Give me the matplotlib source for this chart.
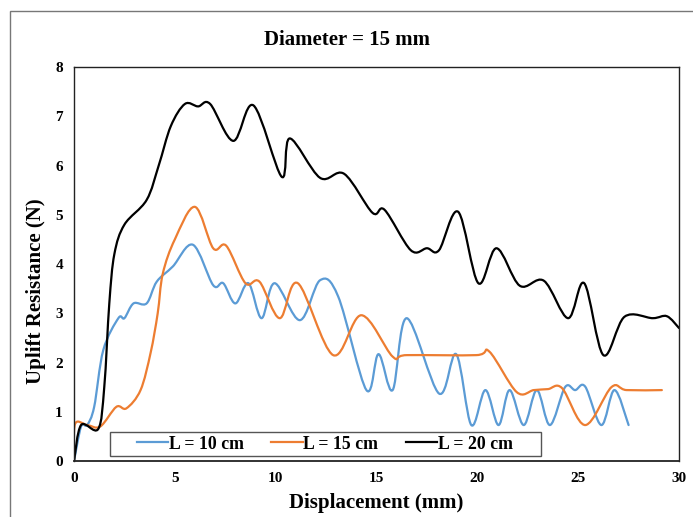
import numpy as np
import matplotlib
matplotlib.use("Agg")
import matplotlib.pyplot as plt
from matplotlib.path import Path
from matplotlib.patches import PathPatch, Rectangle
from matplotlib.lines import Line2D

# Datos (desplazamiento en mm, resistencia en N)
x_10 = [0, 0.35, 0.65, 1.0, 1.45, 2.2, 2.5, 2.95, 3.6, 4.1, 4.9, 5.9, 6.9, 7.4, 8.0,
        8.65, 9.3, 9.95, 11.2, 12.2, 13.1, 14.5, 15.1, 15.8, 16.5, 18.1, 18.95, 19.7,
        20.4, 21.05, 21.6, 22.3, 22.95, 23.6, 24.35, 24.85, 25.35, 26.15, 26.8, 27.5]
y_10 = [0, 0.7, 0.73, 1.1, 2.25, 2.9, 2.9, 3.2, 3.2, 3.64, 3.95, 4.39, 3.57, 3.61, 3.2,
        3.61, 2.9, 3.61, 2.86, 3.67, 3.34, 1.44, 2.17, 1.44, 2.9, 1.37, 2.17, 0.73,
        1.44, 0.73, 1.44, 0.73, 1.44, 0.73, 1.5, 1.44, 1.51, 0.73, 1.44, 0.73]

x_15 = [0, 0.05, 0.65, 1.3, 2.1, 2.6, 3.3, 3.8, 4.15, 4.4, 5.0, 6.0, 6.9, 7.55, 8.5,
        9.2, 10.2, 11.1, 12.85, 14.25, 15.8, 16.5, 19.95, 20.6, 21.95, 22.8, 23.5,
        24.2, 25.35, 26.65, 27.4, 29.15]
y_15 = [0, 0.75, 0.73, 0.7, 1.1, 1.07, 1.44, 2.2, 3.0, 3.8, 4.5, 5.16, 4.32, 4.37, 3.61,
        3.64, 2.9, 3.61, 2.15, 2.96, 2.12, 2.15, 2.15, 2.22, 1.4, 1.44, 1.46,
        1.48, 0.73, 1.5, 1.44, 1.44]

x_20 = [0, 0.35, 1.2, 1.5, 1.75, 2.0, 2.5, 3.6, 4.2, 4.8, 5.5, 6.15, 6.75, 7.9, 8.9,
        10.3, 10.7, 12.2, 13.4, 14.8, 15.4, 16.7, 17.5, 18.1, 19.05, 20.05, 20.95,
        22.1, 23.3, 24.5, 25.3, 26.25, 27.3, 28.7, 29.4, 30]
y_20 = [0, 0.73, 0.65, 1.5, 3.2, 4.2, 4.8, 5.3, 6.0, 6.8, 7.25, 7.2, 7.25, 6.5, 7.22,
        5.77, 6.55, 5.75, 5.83, 5.04, 5.1, 4.28, 4.32, 4.28, 5.06, 3.61, 4.32,
        3.56, 3.66, 2.9, 3.61, 2.15, 2.93, 2.9, 2.94, 2.7]

etiquetas = ['L = 10 cm', 'L = 15 cm', 'L = 20 cm']
colores = ['#5B9BD5', '#ED7D31', '#000000']


# Linea suavizada estilo Excel (Bezier de Catmull-Rom)
def curva_suave(ax, x, y, color):
    p = np.column_stack([x, y]).astype(float)
    n = len(p)
    verts = [p[0]]
    codes = [Path.MOVETO]
    for i in range(n - 1):
        p0 = p[i - 1] if i > 0 else p[i]
        p3 = p[i + 2] if i + 2 < n else p[i + 1]
        c1 = p[i] + (p[i + 1] - p0) / 6.0
        c2 = p[i + 1] - (p3 - p[i]) / 6.0
        verts += [c1, c2, p[i + 1]]
        codes += [Path.CURVE4] * 3
    ax.add_patch(PathPatch(Path(verts, codes), fill=False, edgecolor=color,
                           lw=1.6, joinstyle='round', capstyle='round'))


plt.rcParams['font.family'] = ['Liberation Serif', 'DejaVu Serif']
plt.rcParams['font.weight'] = 'bold'

fig = plt.figure(figsize=(6.93, 5.17), dpi=100)
ax = fig.add_axes([0.1068, 0.1083, 0.873, 0.7621])

for x, y, c in zip([x_10, x_15, x_20], [y_10, y_15, y_20], colores):
    curva_suave(ax, x, y, c)

ax.set_xlim(0, 30)
ax.set_ylim(0, 8)
ax.set_xticks(range(0, 31, 5))
ax.set_yticks(range(0, 9))
ax.tick_params(length=0, labelsize=11, pad=8)
for lab in ax.get_xticklabels() + ax.get_yticklabels():
    lab.set_fontweight('bold')
for s in ax.spines.values():
    s.set_color('#222222')
    s.set_linewidth(1.0)
ax.spines['bottom'].set_linewidth(1.3)

ax.set_xlabel('Displacement (mm)', fontsize=15, fontweight='bold')
ax.set_ylabel('Uplift Resistance (N)', fontsize=15, fontweight='bold')
ax.xaxis.set_label_coords(0.5, -0.08)
ax.yaxis.set_label_coords(-0.046, 0.43)
fig.text(0.5, 0.922, 'Diameter = 15 mm', ha='center', va='center',
         fontsize=15, fontweight='bold')

# Leyenda sin marco + caja propia
handles = [Line2D([], [], color=c, lw=1.6) for c in colores]
leg = ax.legend(handles, etiquetas, loc='center left', bbox_to_anchor=(0.104, 0.043),
                ncol=3, frameon=False, borderpad=0, borderaxespad=0,
                handlelength=1.75, handletextpad=0.05, columnspacing=1.55,
                prop={'weight': 'bold', 'size': 12.8})
ax.add_patch(Rectangle((0.0595, 0.0127), 0.7125, 0.061, transform=ax.transAxes,
                       facecolor='white', edgecolor='#555555', lw=1.0, zorder=4))
leg.set_zorder(5)

# Borde exterior del grafico
fig.patches.append(Rectangle((10 / 693, -0.1), 1.2, (517 - 11) / 517 + 0.1,
                             transform=fig.transFigure, fill=False,
                             edgecolor='#777777', lw=1.0))

fig.savefig('out.png', dpi=100)
